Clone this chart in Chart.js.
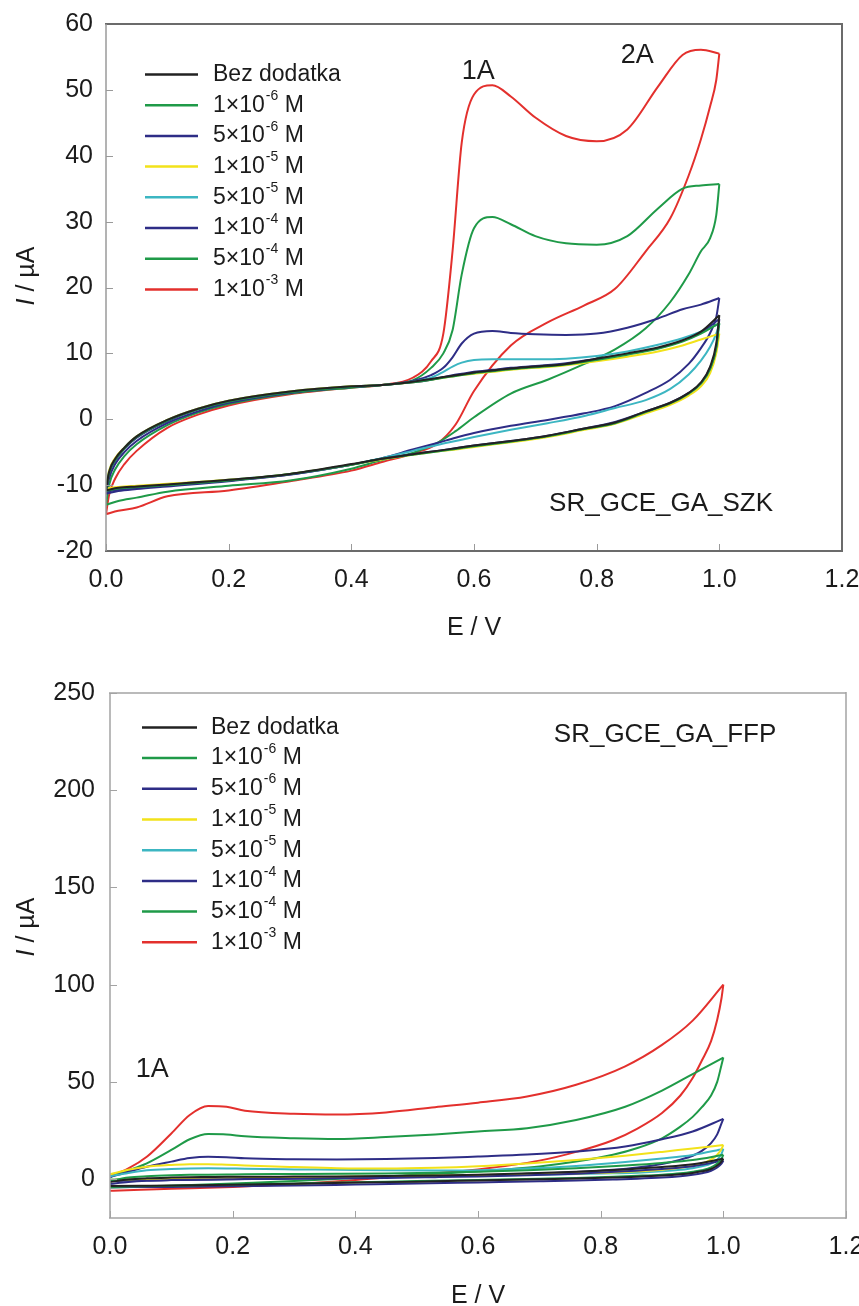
<!DOCTYPE html>
<html>
<head>
<meta charset="utf-8">
<script src="https://cdn.jsdelivr.net/npm/chart.js@4.4.0/dist/chart.umd.min.js"></script>
<style>
  body { margin: 0; background: #fff; width: 859px; height: 1306px; overflow: hidden; }
  .box { position: absolute; left: 0; width: 859px; }
  #boxSzk { top: 0; height: 655px; }
  #boxFfp { top: 655px; height: 651px; }
</style>
</head>
<body>
<div class="box" id="boxSzk"><canvas id="chartSzk"></canvas></div>
<div class="box" id="boxFfp"><canvas id="chartFfp"></canvas></div>
<script>
// series shared by both panels
const seriesLabels = ['Bez dodatka', '1×10^-6 M', '5×10^-6 M', '1×10^-5 M', '5×10^-5 M', '1×10^-4 M', '5×10^-4 M', '1×10^-3 M'];
const seriesColors = ['#222222', '#1f9a48', '#2e2d86', '#f2e21a', '#3cb6c2', '#2e2d86', '#1f9a48', '#e3302d'];

const eTicks = [0, 0.2, 0.4, 0.6, 0.8, 1.0, 1.2];
const szkITicks = [-20, -10, 0, 10, 20, 30, 40, 50, 60];
const ffpITicks = [0, 50, 100, 150, 200, 250];

// ---- SR_GCE_GA_SZK : anodic (forward) scan
const szkForwardE = [0, 0.005, 0.015, 0.03, 0.05, 0.1, 0.15, 0.2, 0.3, 0.4, 0.45, 0.5, 0.53, 0.55, 0.565, 0.58, 0.6, 0.63, 0.66, 0.7, 0.75, 0.8, 0.85, 0.9, 0.94, 0.97, 1.0];
const szkBezFwd = [-10.8, -8.0, -6.0, -4.3, -2.6, -0.1, 1.6, 2.8, 4.2, 5.0, 5.2, 5.7, 6.1, 6.4, 6.6, 6.8, 7.1, 7.4, 7.7, 8.0, 8.4, 9.2, 10.0, 10.9, 12.0, 13.3, 15.8];
const szk1e6Fwd = [-10.9, -8.2, -6.2, -4.4, -2.7, -0.2, 1.5, 2.7, 4.1, 4.9, 5.2, 5.6, 6.0, 6.3, 6.5, 6.7, 7.0, 7.3, 7.6, 7.9, 8.3, 9.0, 9.8, 10.7, 11.8, 13.0, 14.6];
const szk5e6Fwd = [-11.0, -8.3, -6.3, -4.5, -2.8, -0.3, 1.5, 2.7, 4.1, 4.9, 5.2, 5.6, 6.0, 6.4, 6.7, 6.9, 7.2, 7.5, 7.8, 8.1, 8.5, 9.2, 9.9, 10.8, 11.9, 13.2, 15.2];
const szk1e5Fwd = [-10.5, -7.8, -5.9, -4.3, -2.6, -0.1, 1.6, 2.8, 4.2, 5.0, 5.2, 5.6, 6.0, 6.3, 6.5, 6.7, 6.9, 7.2, 7.5, 7.8, 8.2, 8.8, 9.5, 10.3, 11.2, 12.1, 13.0];
const szk5e5Fwd = [-10.6, -7.9, -6.0, -4.3, -2.6, -0.1, 1.6, 2.8, 4.2, 5.0, 5.2, 5.7, 6.3, 7.2, 8.0, 8.6, 9.0, 9.1, 9.1, 9.1, 9.2, 9.6, 10.3, 11.3, 12.3, 13.3, 14.5];
const szk1e4Fwd = [-11.3, -9.0, -6.8, -5.0, -3.3, -0.6, 1.2, 2.5, 4.0, 4.9, 5.2, 5.8, 6.7, 7.8, 9.4, 11.5, 13.0, 13.4, 13.1, 12.9, 12.8, 13.0, 13.9, 15.3, 16.7, 17.4, 18.4];
const szk5e4Fwd = [-13.0, -10.0, -7.6, -5.6, -3.8, -0.9, 1.0, 2.3, 3.9, 4.8, 5.2, 5.9, 7.8, 10.0, 13.5, 22.0, 29.0, 30.7, 29.6, 27.8, 26.7, 26.5, 27.8, 32.0, 35.0, 35.5, 35.7];
const szk1e3Fwd = [-14.4, -11.5, -9.0, -6.8, -4.8, -1.3, 0.7, 2.1, 3.8, 4.8, 5.2, 6.3, 8.8, 13.0, 25.5, 42.0, 49.3, 50.7, 49.0, 45.8, 43.0, 42.2, 44.0, 50.5, 55.3, 56.1, 55.5];

// ---- SR_GCE_GA_SZK : cathodic (reverse) scan
const szkReverseE = [1.0, 0.995, 0.985, 0.97, 0.95, 0.92, 0.88, 0.83, 0.78, 0.72, 0.66, 0.6, 0.57, 0.54, 0.5, 0.45, 0.4, 0.3, 0.2, 0.1, 0.05, 0.02, 0];
const szkBezRev = [15.8, 11.5, 8.0, 5.6, 4.0, 2.5, 1.2, -0.5, -1.4, -2.5, -3.3, -4.0, -4.4, -4.8, -5.3, -6.0, -6.8, -8.3, -9.2, -9.9, -10.2, -10.4, -10.8];
const szk1e6Rev = [14.6, 10.8, 7.6, 5.4, 3.9, 2.4, 1.1, -0.6, -1.5, -2.6, -3.4, -4.1, -4.5, -4.9, -5.4, -6.0, -6.9, -8.3, -9.3, -10.0, -10.3, -10.5, -10.9];
const szk5e6Rev = [15.2, 11.0, 7.8, 5.5, 4.0, 2.5, 1.2, -0.4, -1.4, -2.5, -3.3, -4.0, -4.4, -4.8, -5.3, -6.0, -6.9, -8.4, -9.3, -10.0, -10.4, -10.7, -11.0];
const szk1e5Rev = [13.0, 10.0, 7.0, 5.0, 3.6, 2.2, 0.9, -0.7, -1.6, -2.7, -3.5, -4.2, -4.6, -4.9, -5.4, -6.1, -6.9, -8.3, -9.2, -9.8, -10.1, -10.3, -10.5];
const szk5e5Rev = [14.5, 13.0, 11.0, 8.9, 6.8, 4.6, 2.9, 1.7, 0.5, -0.6, -1.6, -2.7, -3.3, -3.9, -4.8, -5.9, -6.9, -8.3, -9.2, -9.9, -10.2, -10.4, -10.6];
const szk1e4Rev = [18.4, 15.5, 13.1, 10.8, 8.4, 6.0, 4.0, 2.0, 0.9, -0.1, -1.0, -2.1, -2.8, -3.6, -4.6, -5.9, -6.9, -8.4, -9.4, -10.2, -10.6, -10.9, -11.3];
const szk5e4Rev = [35.7, 31.0, 27.5, 25.5, 22.0, 17.8, 13.8, 10.6, 8.4, 6.0, 3.9, 0.3, -1.8, -3.6, -5.1, -6.2, -7.5, -9.3, -10.1, -11.0, -11.9, -12.4, -13.0];
const szk1e3Rev = [55.5, 51.5, 47.5, 42.5, 37.0, 30.5, 25.5, 19.8, 17.3, 14.7, 11.2, 4.3, -0.8, -3.7, -5.2, -6.5, -7.8, -9.4, -10.8, -11.7, -13.4, -13.9, -14.4];

// ---- SR_GCE_GA_FFP : anodic (forward) scan
const ffpForwardE = [0, 0.03, 0.06, 0.1, 0.13, 0.16, 0.19, 0.22, 0.3, 0.37, 0.45, 0.53, 0.6, 0.68, 0.76, 0.84, 0.9, 0.95, 1.0];
const ffpBezFwd = [-1.5, -0.2, 0.4, 0.8, 1.0, 1.1, 1.2, 1.2, 1.3, 1.4, 1.6, 1.9, 2.3, 3.0, 3.8, 5.0, 6.2, 7.6, 10.5];
const ffp1e6Fwd = [-1.0, 0.8, 1.5, 2.0, 2.2, 2.3, 2.4, 2.5, 2.6, 2.7, 2.9, 3.3, 3.8, 4.6, 5.6, 7.0, 8.3, 9.8, 12.5];
const ffp5e6Fwd = [-2.5, -1.5, -0.9, -0.5, -0.3, -0.2, -0.1, 0.0, 0.2, 0.4, 0.6, 1.0, 1.4, 2.0, 2.8, 4.0, 5.2, 6.6, 9.5];
const ffp1e5Fwd = [2.5, 4.8, 6.4, 7.3, 7.6, 7.7, 7.4, 7.0, 6.2, 5.6, 5.4, 5.8, 6.6, 8.0, 9.8, 12.0, 14.0, 15.8, 17.5];
const ffp5e5Fwd = [1.5, 3.2, 4.5, 5.2, 5.5, 5.6, 5.5, 5.3, 5.0, 4.8, 4.5, 4.4, 4.6, 5.4, 6.8, 8.8, 10.6, 12.4, 15.5];
const ffp1e4Fwd = [1.0, 3.8, 6.4, 9.0, 10.8, 11.5, 11.3, 10.7, 10.2, 10.1, 10.3, 10.8, 11.6, 12.6, 14.2, 16.8, 20.5, 24.5, 31.0];
const ffp5e4Fwd = [1.2, 4.5, 8.1, 15.0, 20.5, 23.2, 23.0, 22.0, 21.0, 20.6, 21.6, 23.0, 24.5, 26.2, 30.4, 37.2, 45.5, 54.0, 62.5];
const ffp1e3Fwd = [1.5, 5.5, 11.5, 23.5, 33.0, 37.6, 37.2, 35.2, 33.6, 33.2, 34.3, 37.0, 39.3, 42.5, 48.5, 58.0, 69.0, 81.5, 100.0];

// ---- SR_GCE_GA_FFP : cathodic (reverse) scan
const ffpReverseE = [1.0, 0.997, 0.99, 0.98, 0.965, 0.95, 0.93, 0.9, 0.86, 0.82, 0.76, 0.7, 0.6, 0.5, 0.4, 0.3, 0.2, 0.1, 0.05, 0];
const ffpBezRev = [10.5, 9.0, 7.0, 5.2, 4.0, 3.2, 2.5, 1.8, 1.2, 0.8, 0.3, -0.1, -0.7, -1.3, -1.8, -2.4, -2.9, -3.3, -3.4, -3.5];
const ffp1e6Rev = [12.5, 10.5, 8.0, 6.0, 4.6, 3.8, 3.0, 2.3, 1.7, 1.2, 0.6, 0.2, -0.4, -1.0, -1.6, -2.2, -2.8, -3.4, -3.7, -4.0];
const ffp5e6Rev = [9.5, 8.0, 6.0, 4.3, 3.0, 2.2, 1.5, 0.8, 0.2, -0.2, -0.7, -1.1, -1.7, -2.3, -2.8, -3.3, -3.7, -4.0, -4.1, -4.2];
const ffp1e5Rev = [17.5, 15.5, 12.5, 10.0, 8.0, 6.8, 5.8, 4.8, 4.0, 3.4, 2.9, 2.5, 2.1, 1.7, 1.3, 0.9, 0.5, 0.1, -0.1, -0.3];
const ffp5e5Rev = [15.5, 13.0, 10.0, 8.0, 6.6, 5.6, 4.8, 4.0, 3.3, 3.0, 2.6, 2.2, 1.7, 1.3, 1.0, 0.7, 0.4, 0.2, 0.0, -0.2];
const ffp1e4Rev = [31.0, 28.7, 23.0, 18.5, 14.5, 12.0, 10.0, 7.8, 6.0, 4.8, 3.6, 2.8, 1.9, 1.3, 0.8, 0.3, -0.1, -0.5, -0.7, -1.0];
const ffp5e4Rev = [62.5, 58.7, 50.0, 43.0, 37.0, 32.0, 27.0, 21.0, 16.0, 12.5, 9.0, 6.5, 4.0, 2.2, 0.6, -1.0, -2.2, -3.4, -3.9, -4.3];
const ffp1e3Rev = [100.0, 93.0, 82.0, 71.0, 61.0, 52.0, 43.0, 34.0, 26.0, 20.0, 14.0, 9.5, 5.0, 2.2, -0.5, -2.5, -4.0, -5.0, -5.5, -6.0];

const szkFwd = [szkBezFwd, szk1e6Fwd, szk5e6Fwd, szk1e5Fwd, szk5e5Fwd, szk1e4Fwd, szk5e4Fwd, szk1e3Fwd];
const szkRev = [szkBezRev, szk1e6Rev, szk5e6Rev, szk1e5Rev, szk5e5Rev, szk1e4Rev, szk5e4Rev, szk1e3Rev];
const ffpFwd = [ffpBezFwd, ffp1e6Fwd, ffp5e6Fwd, ffp1e5Fwd, ffp5e5Fwd, ffp1e4Fwd, ffp5e4Fwd, ffp1e3Fwd];
const ffpRev = [ffpBezRev, ffp1e6Rev, ffp5e6Rev, ffp1e5Rev, ffp5e5Rev, ffp1e4Rev, ffp5e4Rev, ffp1e3Rev];

const FONT = "'Liberation Sans', Arial, Helvetica, sans-serif";
const INK = '#1b1b1b';

// box around the plot + short inward ticks
const cvFrame = {
    id: 'cvFrame',
    afterDatasetsDraw(chart, args, opts) {
        const { ctx, chartArea: a, scales } = chart;
        ctx.save();
        ctx.strokeStyle = opts.tickColor;
        ctx.lineWidth = 1;
        ctx.beginPath();
        scales.x.ticks.forEach(t => {
            const px = Math.round(scales.x.getPixelForValue(t.value)) + 0.5;
            ctx.moveTo(px, a.bottom);
            ctx.lineTo(px, a.bottom - opts.tickLength);
        });
        scales.y.ticks.forEach(t => {
            const py = Math.round(scales.y.getPixelForValue(t.value)) + 0.5;
            ctx.moveTo(a.left, py);
            ctx.lineTo(a.left + opts.tickLength, py);
        });
        ctx.stroke();

        function side(color, width, x1, y1, x2, y2) {
            ctx.strokeStyle = color;
            ctx.lineWidth = width;
            ctx.beginPath();
            ctx.moveTo(x1, y1);
            ctx.lineTo(x2, y2);
            ctx.stroke();
        }
        side(opts.boxColor, opts.boxWidth, a.left - 1, a.top, a.right, a.top);
        side(opts.boxColor, opts.boxWidth, a.right, a.top - 1, a.right, a.bottom + 1);
        side(opts.boxColor, opts.boxWidth, a.left - 1, a.bottom, a.right, a.bottom);
        side(opts.leftColor, opts.leftWidth, a.left, a.top, a.left, a.bottom);
        ctx.restore();
    }
};

// legend drawn inside the plot, with superscript exponents
const inlineLegend = {
    id: 'inlineLegend',
    afterDraw(chart, args, opts) {
        const { ctx, chartArea: a } = chart;
        const big = opts.size + 'px ' + FONT;
        const small = Math.round(opts.size * 0.62) + 'px ' + FONT;
        ctx.save();
        ctx.textBaseline = 'middle';
        ctx.textAlign = 'left';
        seriesLabels.forEach((label, i) => {
            const y = a.top + opts.top + i * opts.rowGap;
            const x0 = a.left + opts.left;
            ctx.strokeStyle = seriesColors[i];
            ctx.lineWidth = 2.5;
            ctx.beginPath();
            ctx.moveTo(x0, y);
            ctx.lineTo(x0 + opts.lineLength, y);
            ctx.stroke();

            let x = x0 + opts.lineLength + opts.textGap;
            const parts = label.split('^');
            ctx.fillStyle = INK;
            ctx.font = big;
            ctx.fillText(parts[0], x, y);
            if (parts.length > 1) {
                x += ctx.measureText(parts[0]).width + 1;
                const cut = parts[1].indexOf(' ');
                const exp = parts[1].slice(0, cut);
                const rest = parts[1].slice(cut);
                ctx.font = small;
                ctx.fillText(exp, x, y - opts.size * 0.4);
                x += ctx.measureText(exp).width;
                ctx.font = big;
                ctx.fillText(rest, x, y);
            }
        });
        ctx.restore();
    }
};

// peak labels and electrode name, placed in data coordinates
const cvNotes = {
    id: 'cvNotes',
    afterDraw(chart, args, opts) {
        const { ctx, scales } = chart;
        ctx.save();
        ctx.fillStyle = INK;
        ctx.textAlign = 'center';
        ctx.textBaseline = 'middle';
        opts.items.forEach(n => {
            ctx.font = n.size + 'px ' + FONT;
            ctx.fillText(n.text, scales.x.getPixelForValue(n.e), scales.y.getPixelForValue(n.i));
        });
        ctx.restore();
    }
};

// "I / µA" with italic I
const yTitle = {
    id: 'yTitle',
    afterDraw(chart, args, opts) {
        const ctx = chart.ctx;
        const italic = 'italic ' + opts.size + 'px ' + FONT;
        const plain = opts.size + 'px ' + FONT;
        ctx.save();
        ctx.translate(opts.x, opts.y);
        ctx.rotate(-Math.PI / 2);
        ctx.fillStyle = INK;
        ctx.textBaseline = 'middle';
        ctx.textAlign = 'left';
        ctx.font = italic;
        const w1 = ctx.measureText('I').width;
        ctx.font = plain;
        const w2 = ctx.measureText(' / µA').width;
        let x = -(w1 + w2) / 2;
        ctx.font = italic;
        ctx.fillText('I', x, 0);
        ctx.font = plain;
        ctx.fillText(' / µA', x + w1, 0);
        ctx.restore();
    }
};

function buildDatasets(fwdE, revE, fwdI, revI) {
    let sets = [];
    for (let s = 0; s < seriesLabels.length; s++) {
        let style = {
            borderColor: seriesColors[s],
            backgroundColor: seriesColors[s],
            borderWidth: 2,
            pointRadius: 0,
            showLine: true,
            fill: false,
            tension: 0.4,
            cubicInterpolationMode: 'monotone'
        };
        sets.push(Object.assign({ label: seriesLabels[s], data: fwdE.map((e, k) => ({ x: e, y: fwdI[s][k] })) }, style));
        sets.push(Object.assign({ label: seriesLabels[s], data: revE.map((e, k) => ({ x: e, y: revI[s][k] })) }, style));
    }
    return sets;
}

function makeChart(id, cfg) {
    let tickFont = { family: FONT, size: 25 };
    return new Chart(document.getElementById(id).getContext('2d'), {
        type: 'scatter',
        data: { datasets: buildDatasets(cfg.fwdE, cfg.revE, cfg.fwdI, cfg.revI) },
        plugins: [cvFrame, inlineLegend, cvNotes, yTitle],
        options: {
            responsive: true,
            maintainAspectRatio: false,
            devicePixelRatio: 1,
            animation: false,
            events: [],
            layout: { padding: cfg.padding },
            scales: {
                x: {
                    type: 'linear',
                    min: 0,
                    max: 1.2,
                    afterBuildTicks: s => { s.ticks = eTicks.map(v => ({ value: v })); },
                    afterFit: s => { s.height = cfg.xHeight; s.paddingLeft = 0; s.paddingRight = 0; },
                    ticks: { font: tickFont, color: INK, padding: cfg.xTickPad, maxRotation: 0, autoSkip: false, callback: v => Number(v).toFixed(1) },
                    grid: { display: false, drawTicks: false },
                    border: { display: false },
                    title: { display: true, text: 'E / V', color: INK, font: { family: FONT, size: 25, lineHeight: 0.8 }, padding: { top: 0, bottom: cfg.xTitleBottom } }
                },
                y: {
                    type: 'linear',
                    min: cfg.yMin,
                    max: cfg.yMax,
                    afterBuildTicks: s => { s.ticks = cfg.yTicks.map(v => ({ value: v })); },
                    afterFit: s => { s.width = cfg.yWidth; s.paddingTop = 0; s.paddingBottom = 0; },
                    ticks: { font: tickFont, color: INK, padding: cfg.yTickPad, autoSkip: false },
                    grid: { display: false, drawTicks: false },
                    border: { display: false }
                }
            },
            plugins: {
                legend: { display: false },
                tooltip: { enabled: false },
                cvFrame: cfg.frame,
                inlineLegend: cfg.legend,
                cvNotes: { items: cfg.notes },
                yTitle: cfg.yTitle
            }
        }
    });
}

makeChart('chartSzk', {
    fwdE: szkForwardE, revE: szkReverseE, fwdI: szkFwd, revI: szkRev,
    yMin: -20, yMax: 60, yTicks: szkITicks,
    padding: { top: 24, right: 17, left: 0, bottom: 0 },
    yWidth: 106, xHeight: 104, xTitleBottom: 17, xTickPad: 14, yTickPad: 13,
    frame: { boxColor: '#6b6b6b', boxWidth: 2, leftColor: '#9a9a9a', leftWidth: 1.5, tickColor: '#9a9a9a', tickLength: 7 },
    legend: { left: 39, top: 50.5, rowGap: 30.7, lineLength: 53, textGap: 15, size: 23 },
    notes: [
        { text: '1A', e: 0.607, i: 52.8, size: 27 },
        { text: '2A', e: 0.866, i: 55.2, size: 27 },
        { text: 'SR_GCE_GA_SZK', e: 0.905, i: -12.9, size: 26 }
    ],
    yTitle: { x: 27, y: 276, size: 25 }
});

makeChart('chartFfp', {
    fwdE: ffpForwardE, revE: ffpReverseE, fwdI: ffpFwd, revI: ffpRev,
    yMin: -20, yMax: 250, yTicks: ffpITicks,
    padding: { top: 38, right: 13, left: 0, bottom: 0 },
    yWidth: 110, xHeight: 88, xTitleBottom: 0, xTickPad: 14, yTickPad: 15,
    frame: { boxColor: '#a3a3a3', boxWidth: 1.5, leftColor: '#a3a3a3', leftWidth: 1.5, tickColor: '#a3a3a3', tickLength: 7 },
    legend: { left: 32, top: 34.4, rowGap: 30.7, lineLength: 55, textGap: 14, size: 23 },
    notes: [
        { text: 'SR_GCE_GA_FFP', e: 0.905, i: 228.4, size: 26 },
        { text: '1A', e: 0.069, i: 56.6, size: 27 }
    ],
    yTitle: { x: 27, y: 272, size: 25 }
});
</script>
</body>
</html>
